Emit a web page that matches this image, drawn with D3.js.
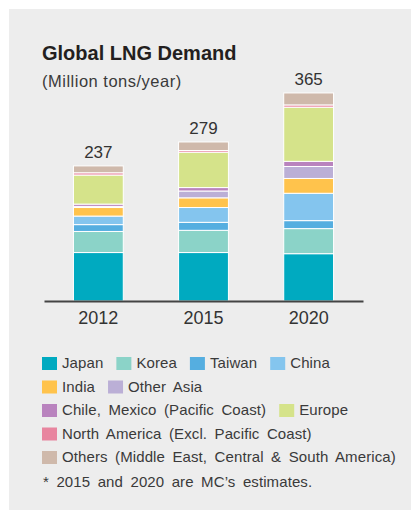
<!DOCTYPE html>
<html>
<head>
<meta charset="utf-8">
<script src="https://cdn.jsdelivr.net/npm/d3@7"></script>
<style>
  html, body { margin: 0; padding: 0; background: #ffffff; }
  svg { display: block; font-family: "Liberation Sans", Arial, Helvetica, sans-serif; }
</style>
</head>
<body>
<svg id="chart" width="411" height="510"></svg>
<script>
// ---- Data ----
const years = ["2012", "2015", "2020"];
const regions = ["Japan", "Korea", "Taiwan", "China", "India", "Other Asia",
  "Chile, Mexico (Pacific Coast)", "Europe", "North America (Excl. Pacific Coast)",
  "Others (Middle East, Central & South America)"];
const japan      = [85, 85, 83];
const korea      = [37, 39, 44];
const taiwan     = [12, 14, 14];
const china      = [15, 26, 48];
const india      = [15, 17, 26];
const otherAsia  = [2, 12, 21];
const chileMex   = [4, 6, 9];
const europe     = [51, 62, 95];
const northAm    = [4, 3, 4];
const others     = [12, 15, 21];
const totals     = [237, 279, 365];
const colors = ["#00aac0", "#8bd3c8", "#55aee0", "#84c5ee", "#ffc34c", "#bbafd6",
  "#b983be", "#d5e38a", "#e8859f", "#cfb9ab"];
const legendRows = [[0, 1, 2, 3], [4, 5], [6, 7], [8], [9]];

const series = [japan, korea, taiwan, china, india, otherAsia, chileMex, europe, northAm, others];
const table = years.map((y, i) => {
  const row = { year: y };
  regions.forEach((r, j) => row[r] = series[j][i]);
  return row;
});

const svg = d3.select("#chart");

// panel
svg.append("rect").attr("x", 9).attr("y", 9).attr("width", 402).attr("height", 501)
  .attr("fill", "#ededed");

// title
svg.append("text").attr("x", 42).attr("y", 60)
  .attr("font-size", 20).attr("font-weight", "bold").attr("fill", "#231f20")
  .text("Global LNG Demand");
svg.append("text").attr("x", 42).attr("y", 86.5)
  .attr("font-size", 16.5).attr("letter-spacing", 0.5).attr("fill", "#3a3a3a")
  .text("(Million tons/year)");

// scales
const x = d3.scaleBand().domain(years).range([44, 363]).paddingInner(0.526).paddingOuter(0.28);
const yScale = d3.scaleLinear().domain([0, 400]).range([301, 301 - 228]);

const stack = d3.stack().keys(regions);
const stacked = stack(table);

const g = svg.append("g");
stacked.forEach((layer, li) => {
  g.selectAll(null).data(layer).join("rect")
    .attr("x", d => x(d.data.year))
    .attr("y", d => yScale(d[1]))
    .attr("width", x.bandwidth())
    .attr("height", d => yScale(d[0]) - yScale(d[1]))
    .attr("fill", colors[li])
    .attr("stroke", "#ffffff")
    .attr("stroke-width", 1);
});

// totals
svg.selectAll(".total").data(years).join("text")
  .attr("class", "total")
  .attr("x", d => x(d) + x.bandwidth() / 2)
  .attr("y", (d, i) => yScale(totals[i]) - 8)
  .attr("text-anchor", "middle")
  .attr("font-size", 17).attr("fill", "#333")
  .text((d, i) => totals[i]);

// x axis
const axis = d3.axisBottom(x).tickSize(0).tickPadding(10);
const ax = svg.append("g").attr("transform", "translate(0,301)").call(axis);
ax.select(".domain").attr("stroke", "#444").attr("stroke-width", 2.2);
ax.selectAll("text").attr("font-size", 18).attr("fill", "#333")
  .attr("font-family", "'Liberation Sans', Arial, sans-serif");

// legend
const rowY = [357, 380.5, 404, 427.5, 451];
legendRows.forEach((row, ri) => {
  let cx = 42;
  row.forEach(idx => {
    svg.append("rect").attr("x", cx).attr("y", rowY[ri])
      .attr("width", 15).attr("height", 13).attr("fill", colors[idx]);
    const t = svg.append("text").attr("x", cx + 20).attr("y", rowY[ri] + 11)
      .attr("font-size", 15).attr("letter-spacing", 0.1).attr("word-spacing", 3.2)
      .attr("fill", "#3a3a3a").text(regions[idx]);
    cx += 20 + t.node().getComputedTextLength() + 13;
  });
});
svg.append("text").attr("x", 43).attr("y", 487)
  .attr("font-size", 15).attr("letter-spacing", 0.1).attr("word-spacing", 3.2)
  .attr("fill", "#3a3a3a")
  .text("* 2015 and 2020 are MC\u2019s estimates.");
</script>
</body>
</html>
